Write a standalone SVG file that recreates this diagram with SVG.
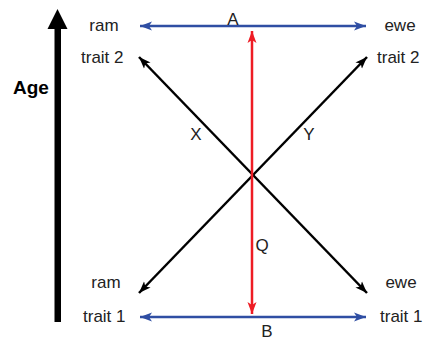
<svg xmlns="http://www.w3.org/2000/svg" width="424" height="340" viewBox="0 0 424 340">
<style>
text{font-family:"Liberation Sans",Arial,sans-serif;font-size:17px;fill:#222}
.c{text-anchor:middle}
.blue{stroke:#2f4ea3;stroke-width:2.5;fill:none}
.blk{stroke:#000;stroke-width:2.5;fill:none}
.red{stroke:#ee1c24;stroke-width:2.5;fill:none}
</style>
<defs>
<marker id="mb" markerUnits="userSpaceOnUse" markerWidth="14" markerHeight="10" refX="12" refY="5" orient="auto-start-reverse"><path d="M0,0.5 L12,5 L0,9.5 L3,5 z" fill="#2f4ea3"/></marker>
<marker id="mk" markerUnits="userSpaceOnUse" markerWidth="14" markerHeight="10" refX="12" refY="5" orient="auto-start-reverse"><path d="M0,0.5 L12,5 L0,9.5 L3,5 z" fill="#000"/></marker>
<marker id="mr" markerUnits="userSpaceOnUse" markerWidth="14" markerHeight="10" refX="12" refY="5" orient="auto-start-reverse"><path d="M0,0.5 L12,5 L0,9.5 L3,5 z" fill="#ee1c24"/></marker>
</defs>
<g id="age">
<rect x="54.5" y="26" width="6.5" height="296" fill="#000"/>
<polygon points="47.5,29 57.5,9 67.5,29" fill="#000"/>
<text x="31" y="94" class="c" style="font-weight:bold;font-size:19px;fill:#000">Age</text>
</g>
<g id="connectors">
<line id="A-line" class="blue" x1="140" y1="26" x2="366" y2="26" marker-start="url(#mb)" marker-end="url(#mb)"/>
<line id="B-line" class="blue" x1="140" y1="317" x2="366" y2="317" marker-start="url(#mb)" marker-end="url(#mb)"/>
<line id="X-line" class="blk" x1="139" y1="57" x2="367" y2="293" marker-start="url(#mk)" marker-end="url(#mk)"/>
<line id="Y-line" class="blk" x1="367" y1="57" x2="139" y2="293" marker-start="url(#mk)" marker-end="url(#mk)"/>
<line id="Q-line" class="red" x1="252" y1="31" x2="252" y2="314" marker-start="url(#mr)" marker-end="url(#mr)"/>
</g>
<g id="labels">
<text x="233" y="25" class="c">A</text>
<text x="267" y="337" class="c">B</text>
<text x="262" y="251" class="c">Q</text>
<text x="196" y="140" class="c">X</text>
<text x="309" y="140" class="c">Y</text>
</g>
<g id="ram-top"><text x="104" y="31" class="c">ram</text><text x="81" y="63">trait 2</text></g>
<g id="ewe-top"><text x="400" y="31" class="c">ewe</text><text x="377" y="63">trait 2</text></g>
<g id="ram-bottom"><text x="106" y="288" class="c">ram</text><text x="83" y="322">trait 1</text></g>
<g id="ewe-bottom"><text x="401" y="288" class="c">ewe</text><text x="380" y="322">trait 1</text></g>
</svg>
